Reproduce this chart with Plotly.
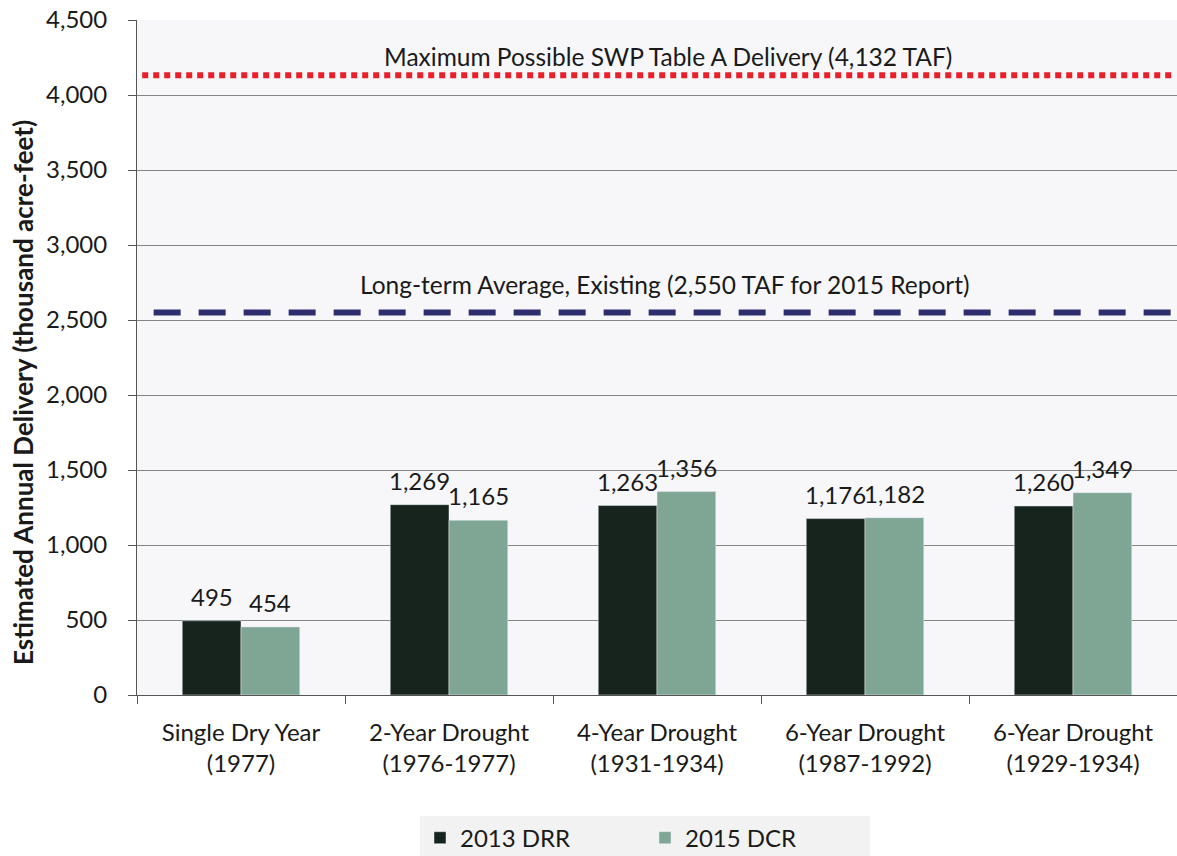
import plotly.graph_objects as go

categories = ["Single Dry Year<br>(1977)", "2-Year Drought<br>(1976-1977)", "4-Year Drought<br>(1931-1934)",
              "6-Year Drought<br>(1987-1992)", "6-Year Drought<br>(1929-1934)"]
drr_2013 = [495, 1269, 1263, 1176, 1260]
dcr_2015 = [454, 1165, 1356, 1182, 1349]
max_table_a = 4132
long_term_avg = 2550
y_ticks = [0, 500, 1000, 1500, 2000, 2500, 3000, 3500, 4000, 4500]

FONT = "Lato"
W, H = 1177, 856
ML, MR, MT, MB = 137, 0, 20, 161
BARGAP = 0.435
plot_w = W - ML - MR
cat_w = plot_w / len(categories)
bar_w = cat_w * (1 - BARGAP) / 2

fig = go.Figure()
fig.add_trace(go.Bar(x=categories, y=drr_2013, name="2013 DRR", marker_color="#17241d"))
fig.add_trace(go.Bar(x=categories, y=dcr_2015, name="2015 DCR", marker_color="#7fa595"))

for series, sign in ((drr_2013, -1), (dcr_2015, 1)):
    for c, v in zip(categories, series):
        fig.add_annotation(x=c, y=v, xref="x", yref="y", text=f"{v:,}", showarrow=False,
                           xshift=sign * bar_w / 2, yshift=8, yanchor="bottom",
                           font=dict(size=24, color="#1a1a1a", family=FONT))

fig.add_shape(type="line", xref="paper", yref="y", x0=0.005, x1=0.995, y0=max_table_a, y1=max_table_a,
              line=dict(color="#e8202a", width=6, dash="6px,5px"))
fig.add_shape(type="line", xref="paper", yref="y", x0=0.016, x1=0.995, y0=long_term_avg, y1=long_term_avg,
              line=dict(color="#2e2d6e", width=6, dash="27px,18px"))

fig.add_annotation(xref="paper", yref="y", x=0.511, y=4255, showarrow=False,
                   text="Maximum Possible SWP Table A Delivery (4,132 TAF)",
                   font=dict(size=24.5, color="#1a1a1a", family=FONT))
fig.add_annotation(xref="paper", yref="y", x=0.508, y=2740, showarrow=False,
                   text="Long-term Average, Existing (2,550 TAF for 2015 Report)",
                   font=dict(size=24.5, color="#1a1a1a", family=FONT))

# y-axis title (sits slightly below the plot's vertical centre in the reference)
fig.add_annotation(xref="paper", yref="y", x=(23 - ML) / plot_w, y=2013, showarrow=False,
                   xanchor="center", yanchor="middle",
                   textangle=-90, text="<b>Estimated Annual Delivery (thousand acre-feet)</b>",
                   font=dict(size=26, color="#1a1a1a", family=FONT))

fig.update_layout(
    width=W, height=H,
    margin=dict(l=ML, r=MR, t=MT, b=MB, autoexpand=False),
    paper_bgcolor="white", plot_bgcolor="#f7f7fa",
    font=dict(family=FONT, size=24, color="#1a1a1a"),
    barmode="group", bargap=BARGAP, bargroupgap=0,
    showlegend=True,
    legend=dict(orientation="h", x=(420 - ML) / plot_w, xanchor="left", y=-0.212, yanchor="middle",
                bgcolor="#f2f2f2", font=dict(size=24), entrywidth=180, itemwidth=30),
    xaxis=dict(showline=True, linecolor="#555", linewidth=1, ticks="outside", tickson="boundaries",
               ticklen=8, tickcolor="#555", tickfont=dict(size=24), showgrid=False,
               ticklabelstandoff=16, automargin=False),
    yaxis=dict(range=[0, 4500], tickvals=y_ticks, tickformat=",", showgrid=True, gridcolor="#858585",
               gridwidth=1, showline=True, linecolor="#555", ticks="outside", ticklen=8, tickcolor="#555",
               tickfont=dict(size=24), zeroline=False, ticklabelstandoff=16, automargin=False,
               ticklabeloverflow="allow"),
)
fig.write_html("out.html", config={"displayModeBar": False},
               post_script="document.body.style.margin='0px';")
